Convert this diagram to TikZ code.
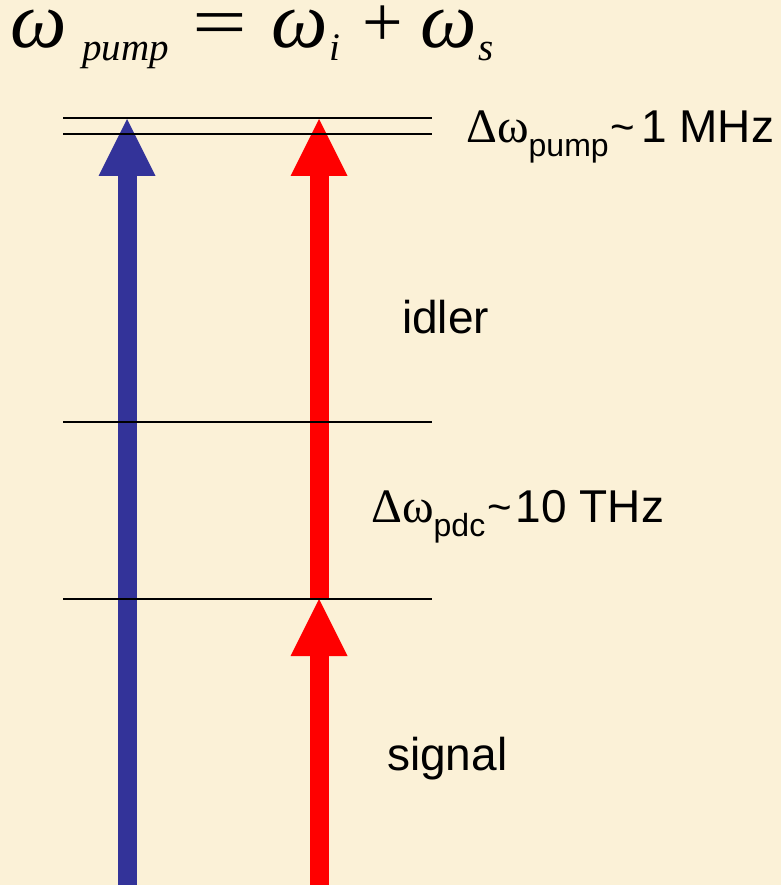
\documentclass[tikz,border=0pt]{standalone}
\usepackage{fontspec}
\setmainfont{Liberation Serif}
\newfontfamily\arialfont{Liberation Sans}
\usetikzlibrary{arrows.meta}
\definecolor{parchment}{RGB}{251,241,215}
\definecolor{pumpblue}{RGB}{51,51,153}
\newcommand{\tild}{\raisebox{1pt}{\fontsize{42}{42}\selectfont\textasciitilde}}

\begin{document}
\begin{tikzpicture}[
        x=1pt, y=-1pt,
        level/.style={line width=1.5pt, draw=black},
        beam/.style={line width=19pt, -{Triangle[length=57pt, width=57pt, line width=0pt]}},
        eqbig/.style={anchor=base west, inner sep=0pt, text height=30pt, font=\fontsize{80}{80}\selectfont\itshape},
        eqsym/.style={anchor=base west, inner sep=0pt, text height=30pt, font=\fontsize{72}{72}\selectfont},
        eqsub/.style={anchor=base west, inner sep=0pt, font=\fontsize{39}{39}\selectfont\itshape},
        textlab/.style={anchor=base west, inner sep=0pt, font=\arialfont\fontsize{46}{46}\selectfont}
        ]

        \fill [parchment] (0,0) rectangle (781,885);
        \useasboundingbox (0,0) rectangle (781,885);

        % photon arrows
        \coordinate (bluebase) at (127,885);
        \coordinate (bluetip)  at (127,119);
        \coordinate (redbase)  at (319,885);
        \coordinate (redmid)   at (319,599);
        \coordinate (redtip)   at (319,119);

        \draw [beam, pumpblue] (bluebase) -- (bluetip);
        \draw [beam, red]      (redmid)   -- (redtip);
        \draw [beam, red]      (redbase)  -- (redmid);

        % energy levels
        \foreach \lv/\y in {top1/118, top2/134, mid/422, low/599} {
            \coordinate (\lv w) at (63,\y);
            \coordinate (\lv e) at (432,\y);
            \draw [level] (\lv w) -- (\lv e);
        }

        % energy conservation
        \node (w1)   [eqbig] at (10,48)  {ω};
        \node (sub1) [eqsub] at (82,61)  {pump};
        \node (eq)   [eqsym] at (192,47) {\scalebox{1.35}[1]{=}};
        \node (w2)   [eqbig] at (271,48) {ω};
        \node (sub2) [eqsub] at (329,61) {i};
        \node (plus) [eqsym] at (362,47) {+};
        \node (w3)   [eqbig] at (420,48) {ω};
        \node (sub3) [eqsub] at (478,61) {s};

        % labels
        \node (dpump)  [textlab] at (466,143) {{\rmfamily\fontsize{48}{48}\selectfont Δω}\raisebox{-14pt}{\fontsize{32}{32}\selectfont pump}\hspace{2pt}\tild\hspace{6pt}1 MHz};
        \node (idler)  [textlab] at (402,333) {idler};
        \node (dpdc)   [textlab] at (371,522) {{\rmfamily\fontsize{48}{48}\selectfont Δω}\raisebox{-14pt}{\fontsize{32}{32}\selectfont pdc}\hspace{2pt}\tild\hspace{4pt}10 THz};
        \node (signal) [textlab] at (387,770) {signal};

    \end{tikzpicture}
\end{document}
